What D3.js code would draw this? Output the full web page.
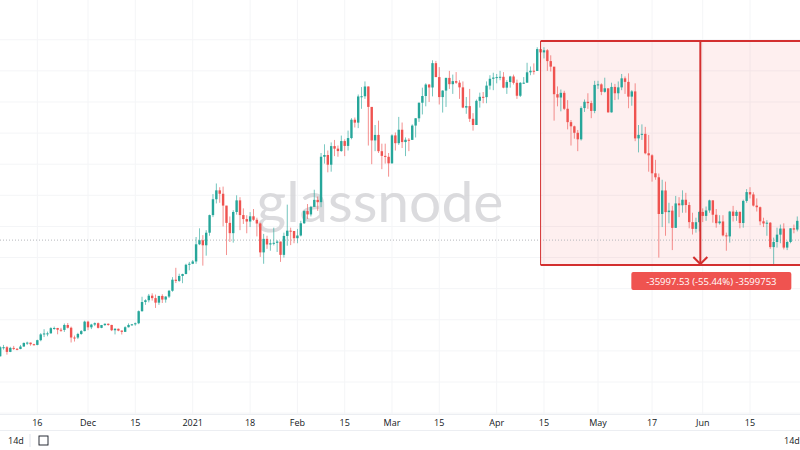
<!DOCTYPE html>
<html><head><meta charset="utf-8">
<script src="https://cdn.jsdelivr.net/npm/d3@7"></script>
<style>body{margin:0;background:#fff}svg{display:block;font-family:"Open Sans",Roboto,sans-serif}</style>
</head><body><svg id="c" width="800" height="450"></svg>
<script>
const startDate = "2020-11-05";
const firstOpen = 14130;
const closes = [15590,15590,14840,
15480,15330,15300,15700,16280,16330,16070,15960,16720,17650,17800,17820,18650,18680,18400,18370,19160,18720,17150,17140,17720,18180,19700,
18790,19230,19450,18700,19150,19360,19170,18320,18550,18260,18060,18800,19170,19270,19440,21380,22850,23140,23870,23480,22750,23830,23250,23730,24660,26440,26250,27040,27360,28840,29000,
29370,32130,32780,31970,33990,36820,39370,40800,40250,38350,35570,33920,37320,39190,36830,36180,35790,36630,36070,35470,30830,33000,32100,32290,32370,32570,30430,33470,34320,34270,33110,
33540,35510,37470,36930,38140,39270,38900,46200,46480,44920,47910,47500,47110,48720,47940,49200,52150,51680,55890,55920,57490,54210,48820,49710,47090,46340,46190,45140,
49630,48380,50540,48560,48930,48910,51210,52380,54880,55960,57800,57330,61240,59000,55790,56830,58870,57860,58350,58100,57350,54100,54340,52300,51300,55190,55830,55780,57630,58730,58920,
59000,59050,57300,58200,59100,58080,56000,58080,58100,59770,60020,59990,63500,62970,63310,61570,60680,56250,55720,56470,53910,51760,51090,50050,49000,54020,55030,54820,53560,57750,
57830,56630,57200,53330,57420,56400,57350,58800,58230,55860,56700,49150,49720,49880,46760,46430,43540,42900,37000,40780,37300,37540,34770,38700,38400,39290,38440,35690,34610,35680,37330,
36690,37570,39190,36880,35520,35800,33560,33400,37390,36690,37340,35550,39100,40520,40140,38350,38090,35820,35480,35600,31680,32500,33680,34660,31600,32500,34700,34500,35900];
const highs = [15750,15960,15770,
15650,15800,15460,15950,16340,16480,16330,16140,16800,17850,18480,18100,18800,18900,18700,18700,19400,19480,18900,17460,17900,18350,19850,
19850,19350,19570,19560,19170,19400,19400,19190,18650,18590,18280,18950,19420,19330,19550,21500,23700,23300,24150,24250,24050,23840,24100,23780,24790,26850,28350,27400,27400,29000,29300,
29600,33300,34700,33600,34400,36900,40200,41900,41300,41400,38300,36600,37600,40000,39700,37900,36800,37300,37800,36400,35600,33800,33500,32900,34800,32800,32550,34000,38500,34800,34200,
34600,35900,37600,38600,38300,40900,39800,46800,48200,47200,48500,48900,48000,49600,49000,50400,52400,52500,56200,57400,58300,57500,54100,51300,52000,48300,48300,46800,
49800,50100,52600,51700,49300,49200,51400,52400,54900,57300,58000,57900,61700,61600,60600,56900,58900,60000,59400,59800,58500,58300,55800,57100,53200,55400,56500,56600,58300,59300,59700,
59500,60000,59800,58500,59200,59400,58600,58200,59000,61300,60700,61200,63800,64800,63800,63500,62500,60400,57500,57000,56800,55300,52100,51200,50500,54300,55400,56400,55200,58400,
58400,58000,58900,57100,58100,57900,58300,59500,59100,59600,56900,58000,51300,51400,51000,49700,46600,45700,43500,42500,42200,38800,38300,39900,39700,40800,40400,38900,37200,36400,37500,
37900,38200,39300,39200,37800,36800,36800,34000,37500,38300,37600,37400,39300,41000,41300,40500,39500,38200,36400,36000,35700,33200,34800,35300,35500,32700,34700,35300,36600];
const lows = [14100,15200,14400,
14800,15150,15100,15270,15650,15960,15840,15870,15900,16550,17220,17350,17770,18400,17670,18050,18050,18600,16350,16500,16900,17580,18150,
18330,18500,18980,18600,18650,19000,19040,18180,17650,18160,17630,18030,18760,19040,19050,19300,21300,22400,22800,23080,21900,22400,22700,22750,23500,24500,25900,26100,25880,27300,27950,
28950,29000,32000,28700,30300,33500,36500,38700,38800,35000,30400,32500,32400,36900,34400,35400,33900,34900,35900,33400,30100,29000,31400,31100,31950,30900,29300,30000,31900,32000,32300,
32300,33400,35400,36200,36600,38200,37500,38100,45100,43700,43800,46300,46200,47000,46300,47200,49000,50900,50800,53900,55500,48000,45000,47100,46800,44200,45100,43000,
45100,47200,48100,47600,46300,47100,48900,49300,51800,53000,54300,55000,55900,59000,54600,53300,54200,57100,56300,57900,55500,54000,53100,51800,50400,51500,54100,54800,54800,57000,56900,
58000,58500,57200,56300,57300,57800,55500,55800,57900,58100,59300,59400,60000,61300,62000,60000,59900,52000,54300,53500,53700,50600,48000,49100,47100,48800,53400,53900,52400,53200,
57100,56100,56500,53300,53300,55300,55400,56900,56300,54000,54400,48700,46900,48900,46600,43800,42200,42500,30000,34900,33500,35500,31200,34800,36500,37200,37200,34700,33700,34000,34200,
35700,35900,37200,35600,34800,35300,33400,31100,32400,35800,35900,34700,34800,38800,39500,38200,37400,35200,34900,33500,31400,28800,31600,32300,31300,31200,32300,33900,34200];
const tickDates = ["2020-11-16","2020-12-01","2020-12-15","2021-01-01","2021-01-18","2021-02-01","2021-02-15","2021-03-01","2021-03-15","2021-04-01","2021-04-15","2021-05-01","2021-05-17","2021-06-01","2021-06-15"];
const tickLabels = ["16","Dec","15","2021","18","Feb","15","Mar","15","Apr","15","May","17","Jun","15"];
const measureHigh = 64800, measureLow = 28802.47;
const measureText = "-35997.53 (-55.44%) -3599753";
const refPrice = 32800;

const parse = d3.utcParse("%Y-%m-%d");
const day = 864e5;
const t0 = parse(startDate);
const data = closes.map((c,i)=>({d:new Date(+t0+i*day),o:i?closes[i-1]:firstOpen,c,h:highs[i],l:lows[i]}));
const svg = d3.select("#c");
const x = d3.scaleUtc().domain([parse("2020-12-01"),parse("2021-06-15")]).range([88,750]);
const y = d3.scaleLinear().domain([measureLow,measureHigh]).range([265,41]);

const g = svg.append("g");
g.selectAll(".vg").data(tickDates).join("line").attr("x1",d=>x(parse(d))).attr("x2",d=>x(parse(d)))
 .attr("y1",0).attr("y2",414).attr("stroke","#f4f5f7");
g.selectAll(".hg").data(d3.range(5000,70000,5000)).join("line").attr("x1",0).attr("x2",800)
 .attr("y1",d=>y(d)).attr("y2",d=>y(d)).attr("stroke","#f4f5f7");
svg.append("text").attr("x",380).attr("y",222).attr("text-anchor","middle").attr("font-size",57)
 .attr("fill","#d0d0d3").attr("opacity",0.75).attr("font-family","Lato, sans-serif").text("glassnode");
const xm0 = x(parse("2021-04-14")), xmid = x(parse("2021-05-31"))+1;
svg.append("rect").attr("x",xm0).attr("y",y(measureHigh)).attr("width",820-xm0).attr("height",y(measureLow)-y(measureHigh))
 .attr("fill","rgba(239,83,80,0.09)");
svg.append("line").attr("x1",0).attr("x2",800).attr("y1",y(refPrice)).attr("y2",y(refPrice))
 .attr("stroke","#b5b7bd").attr("stroke-dasharray","1,2");
const up="#26a69a", dn="#ef5350";
const cg = svg.append("g");
cg.selectAll("line").data(data).join("line").attr("x1",d=>x(d.d)).attr("x2",d=>x(d.d))
 .attr("y1",d=>y(d.h)).attr("y2",d=>y(d.l)).attr("stroke",d=>d.c>=d.o?up:dn).attr("stroke-width",0.8).attr("opacity",0.8);
cg.selectAll("rect").data(data).join("rect").attr("x",d=>x(d.d)-1.2).attr("width",2.4)
 .attr("y",d=>y(Math.max(d.o,d.c))).attr("height",d=>Math.max(1,Math.abs(y(d.o)-y(d.c))))
 .attr("fill",d=>d.c>=d.o?up:dn);
const red="#d32f2f";
svg.append("line").attr("x1",xm0).attr("x2",800).attr("y1",y(measureHigh)).attr("y2",y(measureHigh)).attr("stroke",red).attr("stroke-width",2);
svg.append("line").attr("x1",xm0).attr("x2",800).attr("y1",y(measureLow)).attr("y2",y(measureLow)).attr("stroke",red).attr("stroke-width",2);
svg.append("line").attr("x1",xm0).attr("x2",xm0).attr("y1",y(measureHigh)).attr("y2",y(measureLow)).attr("stroke",red).attr("stroke-width",1);
svg.append("line").attr("x1",xmid).attr("x2",xmid).attr("y1",y(measureHigh)).attr("y2",y(measureLow)).attr("stroke",red).attr("stroke-width",2);
svg.append("path").attr("d",`M${xmid-7},${y(measureLow)-8}L${xmid},${y(measureLow)-1}L${xmid+7},${y(measureLow)-8}`)
 .attr("fill","none").attr("stroke",red).attr("stroke-width",2);
const lx = xmid+11;
svg.append("rect").attr("x",lx-80).attr("y",272).attr("width",160).attr("height",18).attr("rx",2).attr("fill","#ef5350");
svg.append("text").attr("x",lx).attr("y",285).attr("text-anchor","middle").attr("font-size",9.5).attr("fill","#fff").text(measureText);
svg.append("line").attr("x1",0).attr("x2",800).attr("y1",414.5).attr("y2",414.5).attr("stroke","#eceef2");
svg.selectAll(".tl").data(tickDates).join("text").attr("x",d=>x(parse(d))).attr("y",426).attr("text-anchor","middle")
 .attr("font-size",9).attr("fill","#131722").text((d,i)=>tickLabels[i]);
svg.append("line").attr("x1",0).attr("x2",800).attr("y1",430.5).attr("y2",430.5).attr("stroke","#eceef2");
svg.append("text").attr("x",8).attr("y",444).attr("font-size",9).attr("fill","#131722").text("14d");
svg.append("line").attr("x1",30).attr("x2",30).attr("y1",434).attr("y2",447).attr("stroke","#e0e3eb");
svg.append("rect").attr("x",39).attr("y",436).attr("width",9).attr("height",9).attr("fill","none").attr("stroke","#131722").attr("stroke-width",0.9);
svg.append("text").attr("x",784).attr("y",444).attr("font-size",9).attr("fill","#131722").text("14d");
</script></body></html>
